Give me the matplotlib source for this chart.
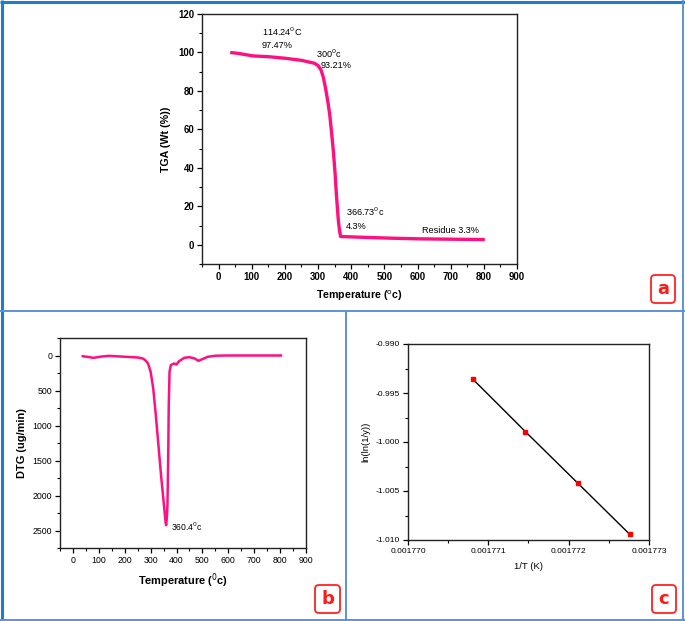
import matplotlib
matplotlib.use("Agg")
import matplotlib.pyplot as plt
from matplotlib.lines import Line2D
from matplotlib.patches import FancyBboxPatch
from matplotlib.ticker import MultipleLocator, FixedLocator
import numpy as np

plt.rcParams['font.family'] = ['Liberation Sans', 'DejaVu Sans']

# ---- data ----
tga_temp = [35, 60, 104, 150, 200, 250, 289, 300, 309, 316, 322, 329, 335, 341, 346, 351, 355, 358, 361, 365, 368, 400, 450, 526, 600, 700, 803]
tga_wt = [100, 99.5, 98.2, 97.8, 97.0, 95.9, 94.4, 93.2, 90.9, 87.0, 82, 75, 68, 58, 49, 38, 27, 20, 13, 7, 4.3, 4.1, 3.8, 3.4, 3.1, 2.9, 2.7]

dtg_temp = [38, 60, 80, 110, 140, 200, 250, 270, 280, 290, 300, 310, 320, 330, 340, 350, 355, 358, 360, 363, 365, 368, 370, 373, 378, 390, 400, 410, 430, 450, 470, 485, 500, 520, 550, 600, 700, 803]
dtg_val = [10, 22, 33, 15, 5, 18, 28, 43, 70, 114, 232, 470, 850, 1276, 1703, 2083, 2280, 2390, 2424, 2300, 2130, 1418, 707, 232, 137, 114, 128, 80, 33, 24, 43, 76, 52, 19, 3, 0, 0, 0]

inv_T = [0.00177081, 0.00177146, 0.00177211, 0.00177276]
lnln = [-0.99361, -0.99893, -1.00417, -1.00942]

a_xticks = [0, 100, 200, 300, 400, 500, 600, 700, 800, 900]
a_yticks = [0, 20, 40, 60, 80, 100, 120]
b_yticks = [0, 500, 1000, 1500, 2000, 2500]
c_xticks = [0.001770, 0.001771, 0.001772, 0.001773]
c_xlabels = ['0.001770', '0.001771', '0.001772', '0.001773']
c_yticks = [-1.010, -1.005, -1.000, -0.995, -0.990]
c_ylabels = ['-1.010', '-1.005', '-1.000', '-0.995', '-0.990']

PINK = '#ff1080'
W, H = 685, 621
fig = plt.figure(figsize=(W / 100, H / 100), dpi=100)
fig.patch.set_facecolor('white')


def ax_px(l, t, r, b):
    return fig.add_axes([l / W, 1 - b / H, (r - l) / W, (b - t) / H])


def style(ax, size, bold):
    for s in ax.spines.values():
        s.set_linewidth(1.0)
        s.set_color('#222222')
    ax.tick_params(which='major', direction='out', length=3.5, width=0.9, labelsize=size,
                   top=False, right=False, pad=2)
    ax.tick_params(which='minor', direction='out', length=2, width=0.8, top=False, right=False)
    if bold:
        for lab in ax.get_xticklabels() + ax.get_yticklabels():
            lab.set_fontweight('bold')


# ---- panel a ----
axa = ax_px(202, 14, 517, 264)
axa.plot(tga_temp, tga_wt, color=PINK, lw=2.4, solid_capstyle='butt')
axa.set_xlim(-50, 900)
axa.set_ylim(-10, 120)
axa.xaxis.set_major_locator(FixedLocator(a_xticks))
axa.yaxis.set_major_locator(FixedLocator(a_yticks))
axa.xaxis.set_minor_locator(MultipleLocator(50))
axa.yaxis.set_minor_locator(MultipleLocator(10))
style(axa, 6.9, True)
axa.set_xlabel('Temperature ($^{\\rm o}$c)', fontsize=7.7, fontweight='bold', labelpad=5)
axa.set_ylabel('TGA (Wt (%))', fontsize=7.7, fontweight='bold', labelpad=5)
tk = dict(fontsize=6.6, ha='left', va='center')
axa.text(130, 110.5, '114.24$^0$C', **tk)
axa.text(130, 103.4, '97.47%', **tk)
axa.text(295, 99.5, '300$^0$c', **tk)
axa.text(309, 93.2, '93.21%', **tk)
axa.text(385, 17, '366.73$^0$c', **tk)
axa.text(385, 9.5, '4.3%', **tk)
axa.text(612, 7.3, 'Residue 3.3%', **tk)

# ---- panel b ----
axb = ax_px(60, 338, 306, 548)
axb.plot(dtg_temp, dtg_val, color=PINK, lw=1.8)
axb.set_xlim(-50, 900)
axb.set_ylim(2750, -250)
axb.xaxis.set_major_locator(FixedLocator(a_xticks))
axb.yaxis.set_major_locator(FixedLocator(b_yticks))
axb.xaxis.set_minor_locator(MultipleLocator(50))
axb.yaxis.set_minor_locator(MultipleLocator(250))
style(axb, 6.3, False)
axb.set_xlabel('Temperature ($^0$c)', fontsize=7.9, fontweight='bold', labelpad=5)
axb.set_ylabel('DTG (ug/min)', fontsize=7.9, fontweight='bold', labelpad=4)
axb.text(377, 2450, '360.4$^0$c', fontsize=6.2, ha='left', va='center')

# ---- panel c ----
axc = ax_px(408, 344, 649, 540)
axc.plot(inv_T, lnln, color='black', lw=1.0, marker='s', markersize=3.5,
         markerfacecolor='red', markeredgecolor='red')
axc.set_xlim(0.001770, 0.001773)
axc.set_ylim(-1.010, -0.990)
axc.xaxis.set_major_locator(FixedLocator(c_xticks))
axc.set_xticklabels(c_xlabels)
axc.yaxis.set_major_locator(FixedLocator(c_yticks))
axc.set_yticklabels(c_ylabels)
axc.xaxis.set_minor_locator(MultipleLocator(0.0000005))
axc.yaxis.set_minor_locator(MultipleLocator(0.0025))
style(axc, 6.1, False)
axc.set_xlabel('1/T (K)', fontsize=6.8, labelpad=5)
axc.set_ylabel('ln(ln(1/y))', fontsize=6.8, labelpad=4)


# ---- frames ----
def pline(x0, y0, x1, y1, color, lw):
    fig.add_artist(Line2D([x0 / W, x1 / W], [1 - y0 / H, 1 - y1 / H], color=color, lw=lw,
                          transform=fig.transFigure, solid_capstyle='butt'))


BLUE = '#1f7ccc'
BLUE2 = '#5d93d2'
pline(0, 1.5, W, 1.5, BLUE, 2.2)
pline(1.5, 0, 1.5, H, BLUE, 2.2)
pline(682.5, 0, 682.5, H, BLUE2, 1.4)
pline(0, 619.5, W, 619.5, BLUE2, 1.4)
pline(0, 310.5, W, 310.5, BLUE2, 1.4)
pline(346.5, 310.5, 346.5, H, BLUE2, 1.4)


def labelbox(l, t, r, b, txt):
    box = FancyBboxPatch((l / W, 1 - b / H), (r - l) / W, (b - t) / H,
                         boxstyle='round,pad=0,rounding_size=0.006',
                         transform=fig.transFigure, facecolor='white', edgecolor='#ff2222', lw=1.3)
    fig.add_artist(box)
    fig.text((l + r) / 2 / W, 1 - (t + b) / 2 / H, txt, color='#ff1a1a', fontsize=13,
             fontweight='bold', ha='center', va='center', family=['DejaVu Sans'])


labelbox(651, 275, 675, 303, 'a')
labelbox(315, 585, 340, 613, 'b')
labelbox(652, 585, 676, 613, 'c')

fig.savefig('out.png', dpi=100, facecolor='white')
